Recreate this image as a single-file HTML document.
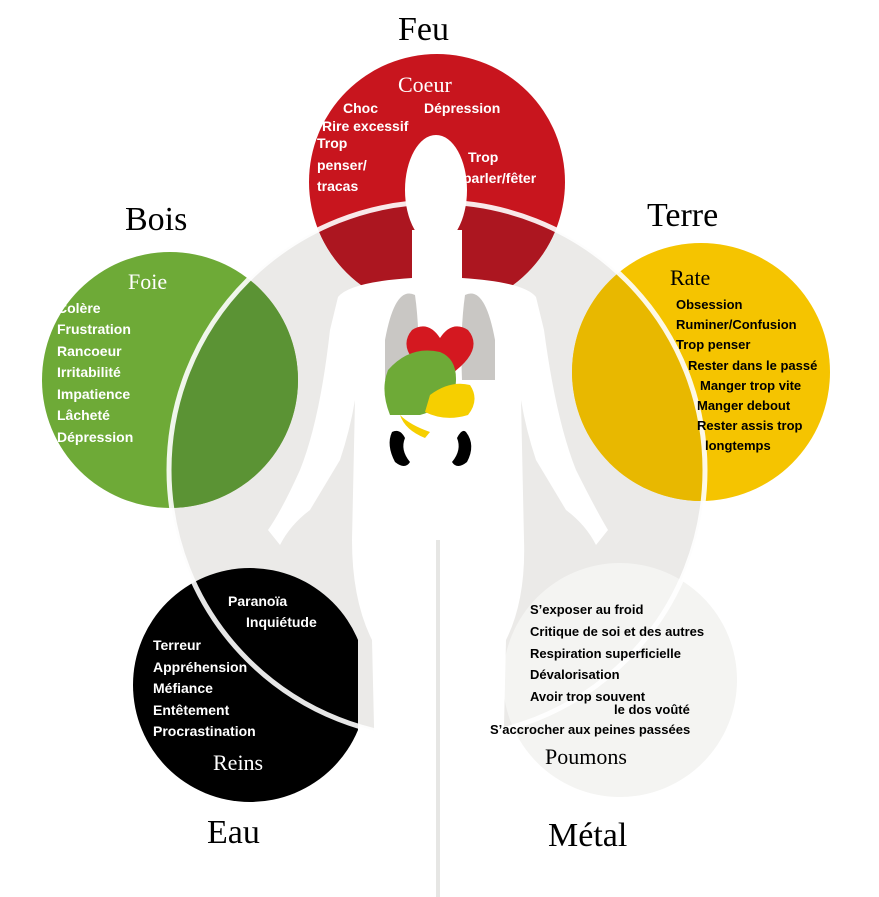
<!DOCTYPE html>
<html><head><meta charset="utf-8"><style>
body{margin:0;background:#fff;}
svg{display:block;}
.s{font-family:"Liberation Serif",serif;}
.b{font-family:"Liberation Sans",sans-serif;font-weight:bold;}
</style></head><body>
<svg width="879" height="897" viewBox="0 0 879 897" xmlns="http://www.w3.org/2000/svg">
<defs>
<clipPath id="big"><circle cx="437" cy="470" r="268"/></clipPath>
<clipPath id="lft"><rect x="0" y="0" width="358" height="897"/></clipPath>
</defs>
<rect width="879" height="897" fill="#fff"/>
<circle cx="437" cy="470" r="268" fill="#ebeae8"/>
<circle cx="437" cy="182" r="128" fill="#c8151e"/>
<circle cx="170" cy="380" r="128" fill="#6eaa37"/>
<circle cx="701" cy="372" r="129" fill="#f5c400"/>
<circle cx="250" cy="685" r="117" fill="#000" clip-path="url(#lft)"/>
<circle cx="620" cy="680" r="117" fill="#f4f4f2"/>
<g clip-path="url(#big)">
<circle cx="437" cy="182" r="128" fill="#ac1620"/>
<circle cx="170" cy="380" r="128" fill="#5b9334"/>
<circle cx="701" cy="372" r="129" fill="#e8b800"/>
</g>
<circle cx="437" cy="470" r="268" fill="none" stroke="#fff" stroke-width="5" opacity="0.9"/>
<g fill="#fff">
<ellipse cx="436" cy="190" rx="31" ry="55"/>
<rect x="412" y="230" width="50" height="60"/>
<path d="M338 297 Q350 282 412 278 L462 278 Q524 282 536 297 L544 330 Q556 420 576 470 Q596 510 608 530 L596 545 Q586 525 566 510 L536 460 Q526 430 521 400 L524 540 Q526 600 506 640 L500 897 L378 897 L372 640 Q352 600 352 540 L355 400 Q350 430 340 460 L310 510 Q290 525 280 545 L268 530 Q282 510 300 470 Q320 420 330 330 Z"/>
</g>
<line x1="438" y1="540" x2="438" y2="897" stroke="#e6e6e4" stroke-width="4"/>
<path d="M385 340 Q395 285 415 295 Q420 330 418 380 L385 380 Z" fill="#c9c7c4"/>
<path d="M495 340 Q485 285 465 295 Q460 330 462 380 L495 380 Z" fill="#c9c7c4"/>
<path d="M430 375 Q395 350 412 330 Q428 320 440 338 Q452 320 468 330 Q485 350 450 375 L440 385 Z" fill="#d41820"/>
<path d="M388 370 Q410 345 440 352 Q460 360 455 390 Q440 410 420 415 L390 415 Q380 390 388 370 Z" fill="#6eaa37"/>
<path d="M430 395 Q450 380 470 385 Q480 400 468 415 Q445 422 425 412 Z M400 415 Q410 425 430 432 L425 438 Q405 430 400 415 Z" fill="#f6cf00"/>
<path d="M392 432 Q386 445 395 462 Q405 470 410 462 Q400 450 405 438 Q400 428 392 432 Z" fill="#000"/>
<path d="M466 432 Q476 445 467 462 Q457 470 452 462 Q462 450 457 438 Q462 428 466 432 Z" fill="#000"/>
<g class="s" fill="#000" font-size="34">
<text x="398" y="40">Feu</text>
<text x="125" y="230">Bois</text>
<text x="647" y="226">Terre</text>
<text x="207" y="843">Eau</text>
<text x="548" y="846">Métal</text>
</g>
<g class="s" font-size="22">
<text x="398" y="92" fill="#fff">Coeur</text>
<text x="128" y="289" fill="#fff">Foie</text>
<text x="670" y="285" fill="#000">Rate</text>
<text x="213" y="770" fill="#fff">Reins</text>
<text x="545" y="764" fill="#000">Poumons</text>
</g>
<g class="b" font-size="14" fill="#fff">
<text x="343" y="113">Choc</text>
<text x="424" y="113">Dépression</text>
<text x="322" y="131">Rire excessif</text>
<text x="317" y="148">Trop</text>
<text x="317" y="170">penser/</text>
<text x="317" y="191">tracas</text>
<text x="468" y="162">Trop</text>
<text x="463" y="183">parler/fêter</text>
<text x="57" y="313">Colère</text>
<text x="57" y="334">Frustration</text>
<text x="57" y="356">Rancoeur</text>
<text x="57" y="377">Irritabilité</text>
<text x="57" y="399">Impatience</text>
<text x="57" y="420">Lâcheté</text>
<text x="57" y="442">Dépression</text>
<text x="228" y="606">Paranoïa</text>
<text x="246" y="627">Inquiétude</text>
<text x="153" y="650">Terreur</text>
<text x="153" y="672">Appréhension</text>
<text x="153" y="693">Méfiance</text>
<text x="153" y="715">Entêtement</text>
<text x="153" y="736">Procrastination</text>
</g>
<g class="b" font-size="13" fill="#000">
<text x="676" y="309">Obsession</text>
<text x="676" y="329">Ruminer/Confusion</text>
<text x="676" y="349">Trop penser</text>
<text x="688" y="370">Rester dans le passé</text>
<text x="700" y="390">Manger trop vite</text>
<text x="697" y="410">Manger debout</text>
<text x="697" y="430">Rester assis trop</text>
<text x="705" y="450">longtemps</text>
<text x="530" y="614">S’exposer au froid</text>
<text x="530" y="636">Critique de soi et des autres</text>
<text x="530" y="658">Respiration superficielle</text>
<text x="530" y="679">Dévalorisation</text>
<text x="530" y="701">Avoir trop souvent</text>
<text x="614" y="714">le dos voûté</text>
<text x="490" y="734">S’accrocher aux peines passées</text>
</g>
</svg>
</body></html>
